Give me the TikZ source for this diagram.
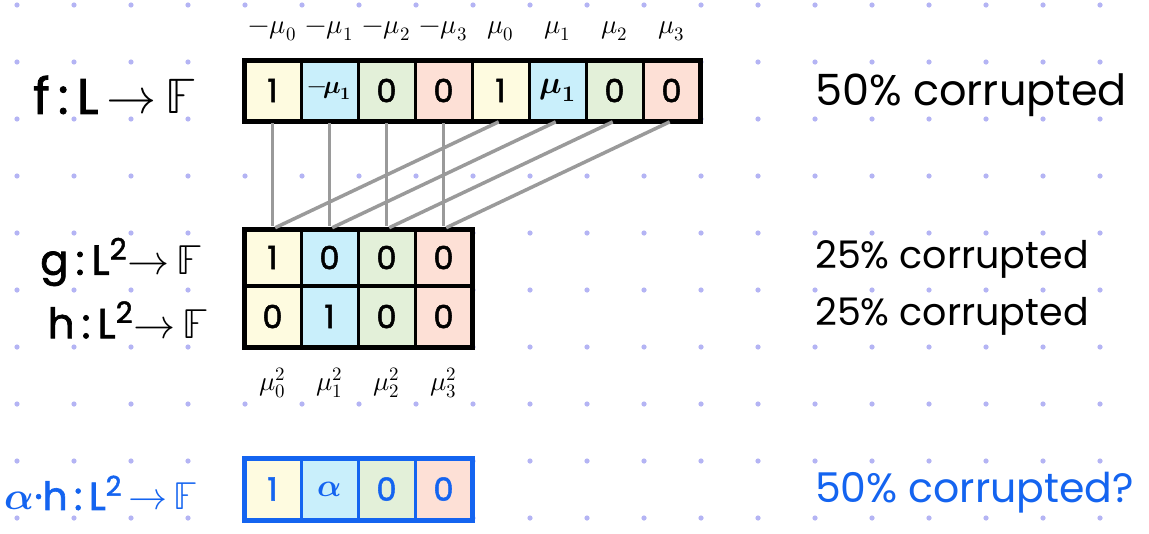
\documentclass[tikz,border=0pt]{standalone}
\usepackage{fontspec}
\usepackage{unicode-math}
\setmainfont{Poppins}[AutoFakeBold=1.6]
\setmathfont{Latin Modern Math}[AutoFakeBold=1.6]
\definecolor{dotc}{HTML}{B4B4F4}
\definecolor{cy}{HTML}{FEFBE0}
\definecolor{cb}{HTML}{C9EFFB}
\definecolor{cg}{HTML}{E3F0D9}
\definecolor{cp}{HTML}{FDE0D6}
\definecolor{linkc}{HTML}{9A9A9A}
\definecolor{hblue}{HTML}{1464F0}
\tikzset{
  cell/.style={draw, line width=3pt, minimum width=57pt, inner sep=0pt, outer sep=0pt, font=\fontsize{32}{34}\selectfont\bfseries},
  frame/.style={draw, line width=5pt},
  link/.style={draw=linkc, line width=3.5pt, shorten <=2pt, shorten >=3pt},
  lbl/.style={font=\fontsize{50}{54}\selectfont, inner sep=0pt, anchor=east},
  lbls/.style={font=\fontsize{42}{46}\selectfont, inner sep=0pt, anchor=east},
  corr/.style={font=\fontsize{43}{46}\selectfont, inner sep=0pt, anchor=west},
  corrs/.style={font=\fontsize{38}{42}\selectfont, inner sep=0pt, anchor=west},
  toplab/.style={font=\fontsize{27}{30}\selectfont, inner sep=0pt},
}
\begin{document}
\begin{tikzpicture}[x=1pt,y=-1pt]
\useasboundingbox[fill=white] (0,0) rectangle (1149,533);
% dot grid
\foreach \i in {0,...,19}{\foreach \j in {0,...,9}{
  \fill[dotc] (17+57*\i,5+57*\j) circle (2.6pt);}}
% f row
\foreach \i/\c/\t in {0/cy/1,1/cb/{\fontsize{25}{27}\selectfont$-\!\symbfit{\mu}_{\symbf{1}}$},2/cg/0,3/cp/0,4/cy/1,5/cb/{$\symbfit{\mu}_{\symbf{1}}$},6/cg/0,7/cp/0}{
  \node[cell, fill=\c, minimum height=61pt] (f\i) at (272.5+57*\i,90.5) {\t};
}
\draw[frame] (f0.north west) rectangle (f7.south east);
% labels above f
\foreach \i/\t in {0/{$-\mu_0$},1/{$-\mu_1$},2/{$-\mu_2$},3/{$-\mu_3$},4/{$\mu_0$},5/{$\mu_1$},6/{$\mu_2$},7/{$\mu_3$}}{
  \node[toplab] (t\i) at (272.5+57*\i,31) {\t};
}
% g and h rows
\foreach \i/\c/\t in {0/cy/1,1/cb/0,2/cg/0,3/cp/0}{
  \node[cell, fill=\c, minimum height=57pt] (g\i) at (272.5+57*\i,257.5) {\t};
}
\foreach \i/\c/\t in {0/cy/0,1/cb/1,2/cg/0,3/cp/0}{
  \node[cell, fill=\c, minimum height=61pt] (h\i) at (272.5+57*\i,316.5) {\t};
}
\draw[frame] (g0.north west) rectangle (h3.south east);
\draw[line width=4pt] (g0.south west) -- (g3.south east);
% labels below
\foreach \i in {0,...,3}{
  \node[toplab] (b\i) at (272.5+57*\i,383) {$\mu_{\i}^{2}$};
}
% links
\foreach \i in {0,...,3}{
  \pgfmathtruncatemacro{\k}{\i+4}
  \draw[link] (f\i.south) -- (g\i.north);
  \draw[link] (f\k.south) -- (g\i.north);
}
% alpha row
\foreach \i/\c/\t in {0/cy/1,1/cb/{$\symbfit{\alpha}$},2/cg/0,3/cp/0}{
  \node[cell, draw=hblue, text=hblue, fill=\c, minimum height=62pt] (a\i) at (272.5+57*\i,489) {\t};
}
\draw[frame, draw=hblue] (a0.north west) rectangle (a3.south east);
% left labels
\node[lbl] (lf) at (196,95) {\bfseries f\,:\,L\,$\symbf{\rightarrow}$\,$\mathbb{F}$};
\node[lbls] (lg) at (202,262) {\bfseries g\,:\,L\textsuperscript{2}$\rightarrow$\,$\mathbb{F}$};
\node[lbls] (lh) at (208,320) {\bfseries h\,:\,L\textsuperscript{2}$\rightarrow$\,$\mathbb{F}$};
\node[lbls, text=hblue, font=\fontsize{39}{42}\selectfont] (la) at (198,493) {\bfseries$\symbfit{\alpha}$·h\,:\,L\textsuperscript{2}\,$\rightarrow$\,$\mathbb{F}$};
% right texts
\node[corr] (c1) at (815,95) {50\% corrupted};
\node[corrs] (c2) at (815,259) {25\% corrupted};
\node[corrs] (c3) at (815,316) {25\% corrupted};
\node[corr, text=hblue, font=\fontsize{41}{44}\selectfont] (c4) at (815,493) {50\% corrupted?};
\end{tikzpicture}
\end{document}
